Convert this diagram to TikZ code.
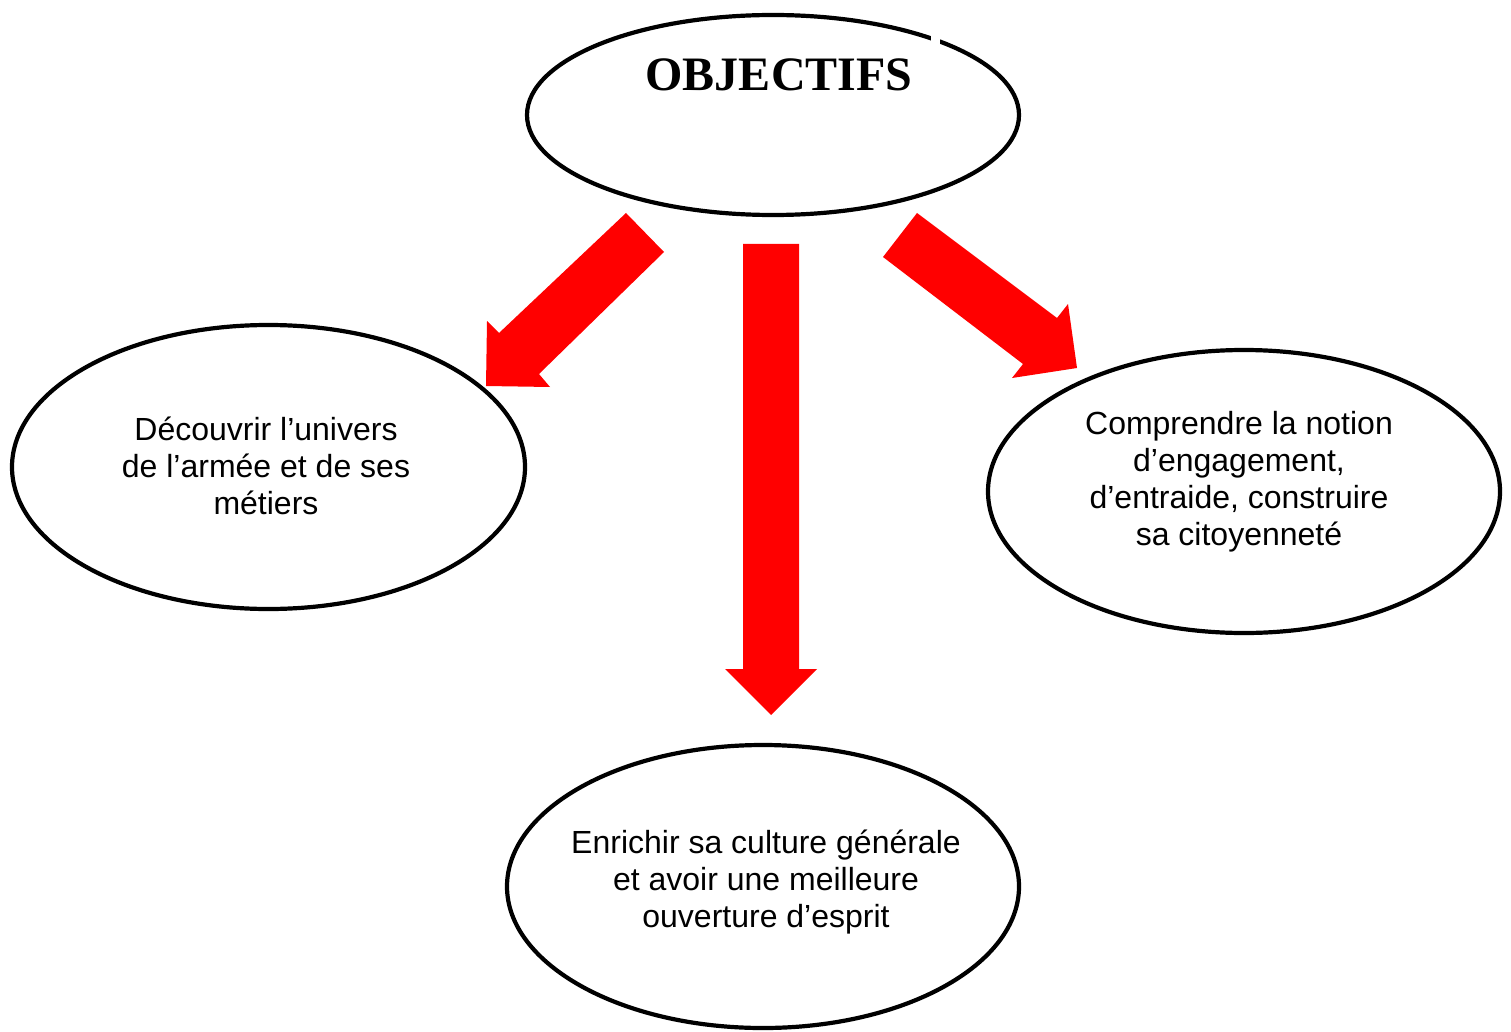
\documentclass[tikz,border=0pt]{standalone}
\usepackage{fontspec}
\setmainfont{Liberation Sans}
\newfontfamily\serifbold{Liberation Serif}
\usetikzlibrary{shapes.geometric}
\definecolor{arrowred}{RGB}{255,0,0}
\begin{document}
\begin{tikzpicture}[x=1pt,y=-1pt,
  oval/.style={ellipse, draw=black, line width=4.2pt, fill=white, inner sep=0pt},
  goaltext/.style={align=center, font=\fontsize{32}{37}\selectfont},
  bigarrow/.style={fill=arrowred, draw=none}]
\useasboundingbox[fill=white] (0,0) rectangle (1511,1032);
% ellipses
\node[oval, minimum width=492pt, minimum height=200pt] (top) at (773,115) {};
\node[font=\serifbold\bfseries\fontsize{48}{56}\selectfont] (title) at (779,75) {OBJECTIFS};
\fill[white] (931,26) rectangle (940,44);
\node[oval, minimum width=513pt, minimum height=284pt] (left) at (268.5,467) {};
\node[oval, minimum width=512pt, minimum height=283pt] (right) at (1244,491.5) {};
\node[oval, minimum width=512pt, minimum height=283pt] (bottom) at (763,886.5) {};
% texts
\node[goaltext] (lt) at (266,466) {Découvrir l’univers\\de l’armée et de ses\\métiers};
\node[goaltext] (rt) at (1239,482) {Comprendre la notion\\d’engagement,\\d’entraide, construire\\sa citoyenneté};
\node[goaltext] (bt) at (766,882) {Enrichir sa culture générale\\et avoir une meilleure\\ouverture d’esprit};
% block arrows
\fill[bigarrow] (626,213) -- (664,252) -- (539,374) -- (550,387) -- (486,386)
  -- (487,321) -- (499,333) -- cycle;
\fill[bigarrow] (743,244) -- (799,244) -- (799,669) -- (817,669) -- (771,715)
  -- (725,669) -- (743,669) -- cycle;
\fill[bigarrow] (917,213) -- (1057,318) -- (1068,304) -- (1077,368) -- (1012,378)
  -- (1023,364) -- (883,257) -- cycle;
\end{tikzpicture}
\end{document}
